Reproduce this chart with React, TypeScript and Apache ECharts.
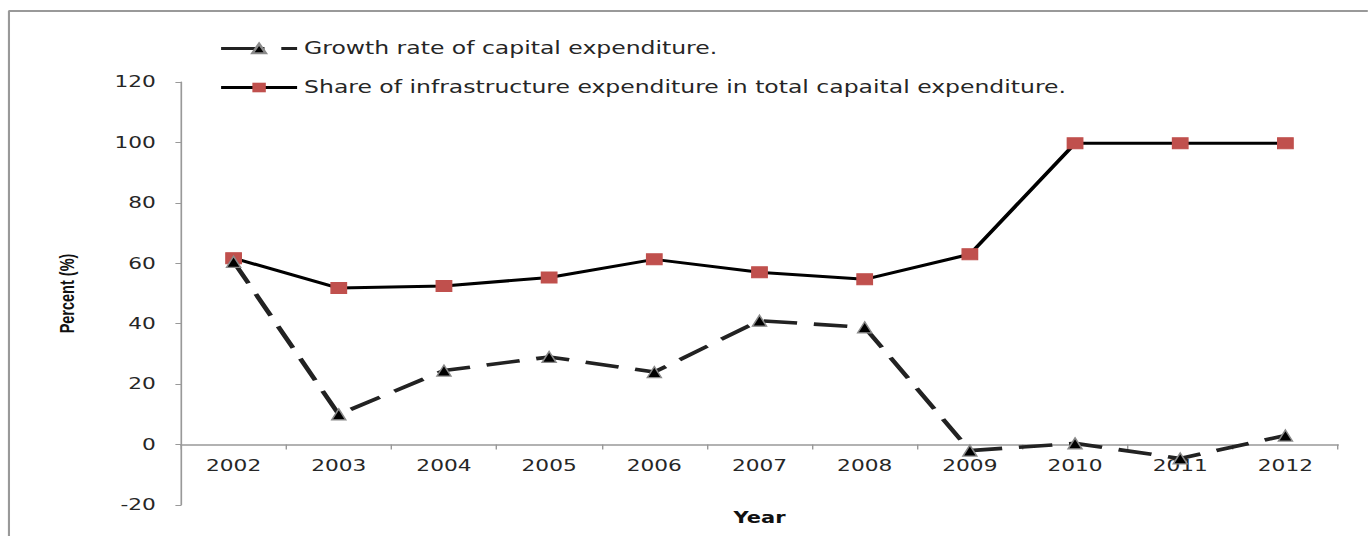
import React, { useEffect, useRef } from "react";
import * as echarts from "echarts";

const years = ["2002", "2003", "2004", "2005", "2006", "2007", "2008", "2009", "2010", "2011", "2012"];
const growthRate = [60.5, 10, 24.5, 29, 24, 41, 38.8, -2, 0.4, -4.6, 3];
const infraShare = [61.7, 51.8, 52.5, 55.3, 61.3, 57, 54.7, 63, 99.7, 99.7, 99.7];
const yTickMin = -20;
const yTickMax = 120;
const yTickStep = 20;
const growthName = "Growth rate of capital expenditure.";
const shareName = "Share of infrastructure expenditure in total capaital expenditure.";

// The reference picture is stretched horizontally; the chart is drawn narrower and widened with scaleX.
const STRETCH = 1.4;
const W = 1368 / STRETCH;
const H = 536;

export default function App() {
  const ref = useRef<HTMLDivElement>(null);
  useEffect(() => {
    if (!ref.current) return;
    const chart = echarts.init(ref.current, null, { renderer: "svg" });
    const font = "DejaVu Sans";
    const gridTop = 82;
    const gridH = 423;
    const zeroOffset = (gridH * (0 - yTickMin)) / (yTickMax - yTickMin);
    chart.setOption({
      animation: false,
      backgroundColor: "#ffffff",
      graphic: [
        { type: "line", shape: { x1: 6.4, y1: 11, x2: 6.4, y2: 536 }, style: { stroke: "#999", lineWidth: 1.5 } },
        { type: "line", shape: { x1: 6, y1: 11, x2: W, y2: 11 }, style: { stroke: "#999", lineWidth: 2 } },
      ],
      legend: {
        orient: "vertical",
        left: 212 / STRETCH,
        top: 35,
        itemWidth: 76 / STRETCH,
        itemHeight: 12,
        itemGap: 22,
        textStyle: { fontFamily: font, fontSize: 16.8, color: "#262626" },
        data: [
          { name: growthName, lineStyle: { type: [31, 12], width: 3 } },
          { name: shareName, lineStyle: { width: 3 } },
        ],
      },
      grid: {
        left: 181 / STRETCH,
        top: gridTop,
        width: 1157 / STRETCH,
        height: gridH,
        containLabel: false,
        outerBoundsMode: "none",
      },
      xAxis: {
        type: "category",
        data: years,
        boundaryGap: true,
        offset: -zeroOffset,
        name: "Year",
        nameLocation: "middle",
        nameGap: 66,
        nameTextStyle: { fontFamily: font, fontSize: 15, fontWeight: "bold", color: "#111" },
        axisLine: { onZero: false, lineStyle: { color: "#999", width: 1.5 } },
        axisTick: { show: true, alignWithLabel: false, length: 5, lineStyle: { color: "#999" } },
        axisLabel: { fontFamily: font, fontSize: 15.5, color: "#262626", margin: 13 },
        splitLine: { show: false },
      },
      yAxis: {
        type: "value",
        min: yTickMin,
        max: yTickMax,
        interval: yTickStep,
        name: "Percent (%)",
        nameLocation: "middle",
        nameGap: 74,
        nameRotate: 90,
        nameTextStyle: { fontFamily: "Liberation Sans", fontSize: 14.5, fontWeight: "bold", color: "#111" },
        axisLine: { show: true, lineStyle: { color: "#999", width: 1.2 } },
        axisTick: { show: true, length: 4, lineStyle: { color: "#999" } },
        axisLabel: { fontFamily: font, fontSize: 15.5, color: "#262626", margin: 18 },
        splitLine: { show: false },
      },
      series: [
        {
          name: growthName,
          type: "line",
          data: growthRate,
          symbol: "triangle",
          symbolSize: [10, 11],
          lineStyle: { color: "#222", width: 3.6, type: [24, 12] },
          itemStyle: { color: "#000", borderColor: "#8a8a8a", borderWidth: 1.2 },
          z: 3,
        },
        {
          name: shareName,
          type: "line",
          data: infraShare,
          symbol: "rect",
          symbolSize: 11,
          lineStyle: { color: "#000", width: 3 },
          itemStyle: { color: "#C0504D", borderColor: "#C0504D" },
          z: 2,
        },
      ],
    });
    return () => chart.dispose();
  }, []);
  return (
    <div
      style={{
        position: "fixed",
        left: 0,
        top: 0,
        width: 1368,
        height: H,
        overflow: "hidden",
        background: "#fff",
      }}
    >
      <div
        ref={ref}
        style={{
          width: W,
          height: H,
          transform: `scaleX(${STRETCH})`,
          transformOrigin: "0 0",
        }}
      />
    </div>
  );
}
